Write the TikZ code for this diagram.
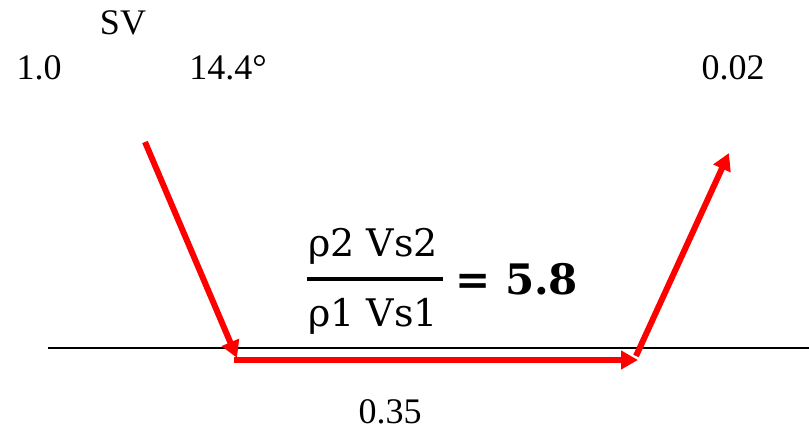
\documentclass[tikz,border=0pt]{standalone}
\usepackage{fontspec}
\setmainfont{Liberation Serif}
\newfontfamily\fracfont{DejaVu Serif}
\usetikzlibrary{arrows.meta}
\tikzset{
  ray/.style={draw=red, line width=6pt, -{Triangle[length=17pt,width=18pt]}},
  lbl/.style={font=\fontsize{36}{42}\selectfont, inner sep=0pt},
  frac/.style={font=\fracfont\fontsize{38}{44}\selectfont, inner sep=0pt}
}
\begin{document}
\begin{tikzpicture}[x=1pt,y=-1pt]
\useasboundingbox (0,0) rectangle (809,435);
\coordinate (l1) at (48,348);
\coordinate (l2) at (809,348);
\draw[line width=1.5pt] (l1) -- (l2);
\coordinate (a) at (145,142);
\coordinate (b) at (237,358);
\coordinate (c) at (638,360);
\coordinate (d) at (729,153);
\coordinate (b2) at (234,360);
\coordinate (c2) at (636,356);
\draw[ray] (a) -- (b);
\draw[ray] (b2) -- (c);
\draw[ray] (c2) -- (d);
\node[lbl] (sv) at (123,23) {SV};
\node[lbl] (one) at (39,68) {1.0};
\node[lbl] (ang) at (228,68) {14.4°};
\node[lbl] (tr) at (733,68) {0.02};
\node[lbl] (bt) at (390,412) {0.35};
\node[frac, anchor=base] (num) at (373,257) {ρ2 Vs2};
\node[frac, anchor=base] (den) at (373,327) {ρ1 Vs1};
\coordinate (f1) at (307,279);
\coordinate (f2) at (443,279);
\draw[line width=3.5pt] (f1) -- (f2);
\node[frac, anchor=west, font=\fracfont\bfseries\fontsize{42}{48}\selectfont] (eq) at (455,279) {= 5.8};
\end{tikzpicture}
\end{document}
